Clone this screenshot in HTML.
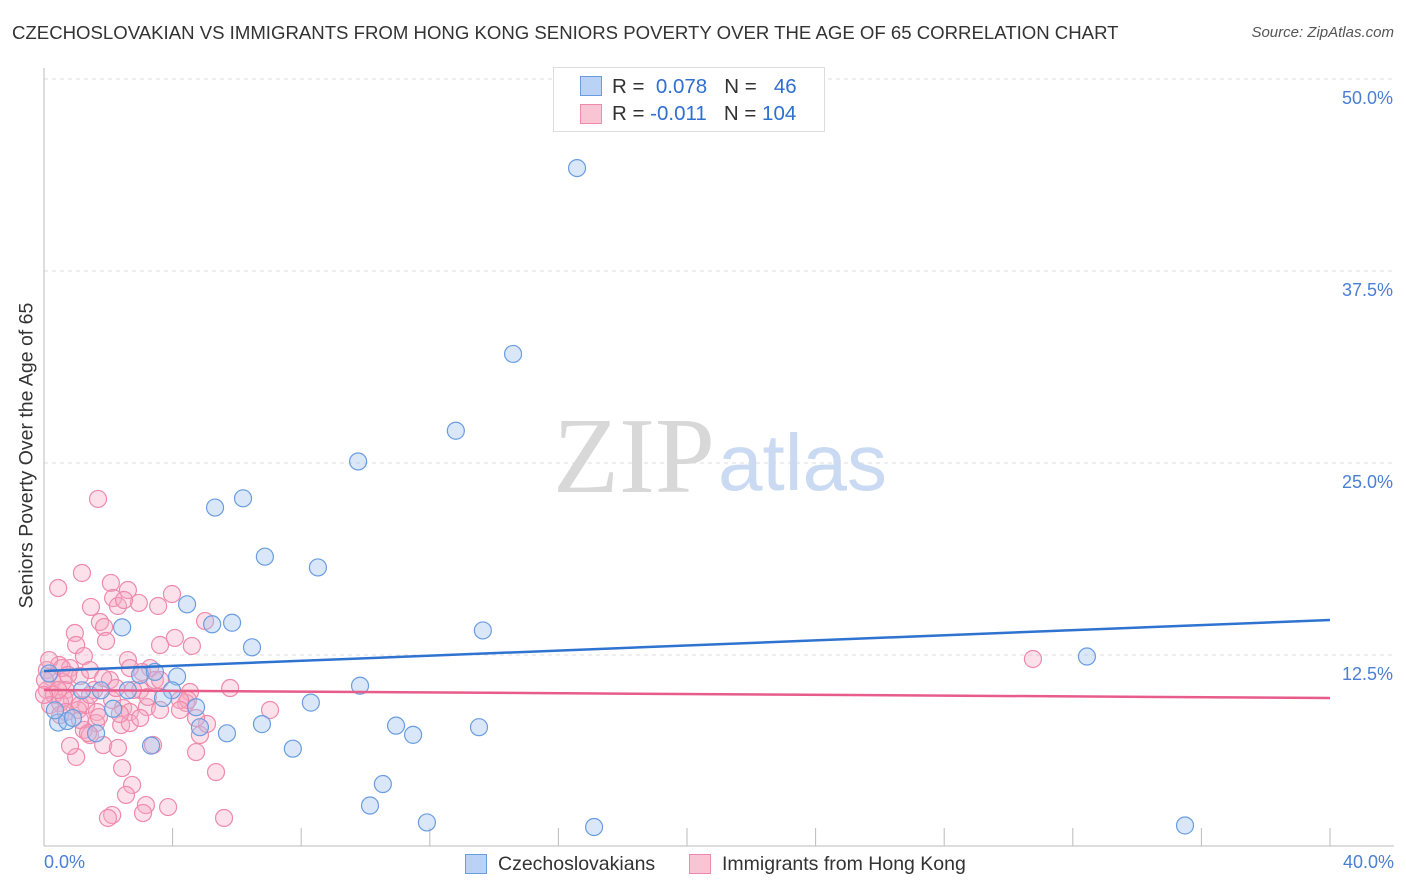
<!DOCTYPE html>
<html><head><meta charset="utf-8"><style>
body{margin:0;background:#fff;font-family:"Liberation Sans",sans-serif}
#wrap{position:relative;width:1406px;height:892px;overflow:hidden}
.t{position:absolute;white-space:nowrap}
</style></head><body>
<div id="wrap">
<div class="t" style="left:12px;top:22px;font-size:18.6px;color:#333">CZECHOSLOVAKIAN VS IMMIGRANTS FROM HONG KONG SENIORS POVERTY OVER THE AGE OF 65 CORRELATION CHART</div>
<div class="t" style="right:12px;top:24px;font-size:15px;color:#555;font-style:italic">Source: ZipAtlas.com</div>
<svg id="svg" width="1406" height="892" style="position:absolute;left:0;top:0"></svg>
</div>
<script>
const yTicks=[12.5,25,37.5,50];
const yTickLabels=["12.5%","25.0%","37.5%","50.0%"];
const blueX=[16.58,14.59,12.81,9.77,6.19,5.32,6.87,8.52,4.45,5.85,5.23,2.43,6.47,13.65,32.44,4.14,2.99,9.83,3.98,3.70,8.30,4.73,2.15,2.61,0.44,0.72,0.90,1.62,3.33,4.85,5.69,6.78,7.74,10.95,11.48,13.53,10.54,10.14,11.91,17.11,35.49,0.16,1.18,1.77,0.34,3.45];
const blueY=[44.2,32.1,27.1,25.1,22.7,22.1,18.9,18.2,15.8,14.6,14.5,14.3,13.0,14.1,12.4,11.1,11.2,10.5,10.2,9.7,9.4,9.1,9.0,10.2,8.1,8.2,8.4,7.4,6.6,7.8,7.4,8.0,6.4,7.9,7.3,7.8,4.1,2.7,1.6,1.3,1.4,11.3,10.2,10.2,8.9,11.4];
const pinkX=[1.68,0.44,1.18,2.08,2.61,1.46,2.15,2.95,3.55,3.98,2.30,2.49,0.96,1.74,1.87,1.93,1.00,1.24,3.61,4.07,4.60,5.01,3.30,2.61,0.47,0.81,0.09,0.25,0.59,1.12,1.43,2.05,2.99,3.45,4.54,0.09,0.31,0.68,0.87,1.31,1.65,2.12,2.46,2.67,3.20,3.61,4.42,0.19,0.50,0.62,1.06,1.62,2.40,2.67,1.24,1.43,1.84,1.00,1.37,0.81,2.30,3.39,4.85,5.07,5.79,7.03,4.48,3.23,2.77,2.24,1.84,1.56,1.12,0.44,0.03,0.00,0.16,0.56,0.75,1.43,3.61,4.23,4.73,5.35,2.43,2.74,2.55,3.17,3.86,3.08,2.12,1.99,5.60,30.76,0.50,1.71,2.36,3.05,1.12,2.99,4.73,4.23,2.67,0.68];
const pinkY=[22.66,16.86,17.84,17.19,16.73,15.63,16.21,15.89,15.69,16.47,15.69,16.08,13.93,14.65,14.32,13.41,13.15,12.43,13.15,13.61,13.09,14.71,11.65,12.17,11.85,11.65,11.52,11.00,10.74,11.13,11.52,10.87,10.22,10.87,10.09,10.22,9.90,10.22,9.57,9.24,8.79,9.57,9.05,8.79,9.11,8.92,9.38,9.24,9.38,9.70,8.92,8.07,7.94,8.07,7.62,7.29,6.64,5.86,7.42,6.58,6.45,6.64,7.29,8.01,10.35,8.92,9.57,9.77,10.22,10.35,11.00,10.22,9.24,10.22,10.87,9.90,12.17,11.65,11.20,9.90,10.87,9.57,6.18,4.88,5.14,4.04,3.39,2.73,2.60,2.21,2.08,1.89,1.89,12.24,8.59,8.46,8.66,11.39,8.27,8.40,8.40,8.92,11.65,8.79];
const blueTrend=[11.46,14.78];
const pinkTrend=[10.22,9.70];
const NS="http://www.w3.org/2000/svg";
const svg=document.getElementById('svg');
const X=v=>44+v*(1286/40);
const Y=v=>847-v*15.36;
function mk(tag,attrs,parent){const e=document.createElementNS(NS,tag);for(const k in attrs)e.setAttribute(k,attrs[k]);(parent||svg).appendChild(e);return e;}
yTicks.forEach((t,i)=>{
 const g=mk('line',{x1:44,x2:1394,y1:Y(t),y2:Y(t),stroke:'#ddd','stroke-dasharray':'4,4'});
 
 
 const tx=mk('text',{x:1393,y:Y(t)+25,'text-anchor':'end','font-size':18,fill:'#4a7fd4','font-family':'Liberation Sans'});
 tx.textContent=yTickLabels[i];
 
 
});
const ax=mk('line',{x1:44,x2:44,y1:68,y2:846,stroke:'#bbb'});


const bx=mk('line',{x1:44,x2:1394,y1:846,y2:846,stroke:'#bbb'});


for(let v=4;v<=40;v+=4){const tk=mk('line',{x1:X(v),x2:X(v),y1:828,y2:846,stroke:'#bbb'});
 
 }
const wm=mk('text',{x:553,y:492,'font-size':108,fill:'#d8d8d8','font-family':'Liberation Serif'});wm.textContent='ZIP';


const wm2=mk('text',{x:718,y:490,'font-size':80,fill:'#c9daf2','font-family':'Liberation Sans'});wm2.textContent='atlas';


pinkX.forEach((x,i)=>{const c=mk('circle',{cx:X(x),cy:Y(pinkY[i]),r:8.5,fill:'rgba(246,170,195,0.35)',stroke:'#ee8aab','stroke-width':1.2});
 
 });
blueX.forEach((x,i)=>{const c=mk('circle',{cx:X(x),cy:Y(blueY[i]),r:8.5,fill:'rgba(160,195,240,0.4)',stroke:'#6a9de0','stroke-width':1.2});
 
 });
const bl=mk('line',{x1:X(0),x2:X(40),y1:Y(blueTrend[0]),y2:Y(blueTrend[1]),stroke:'#2f73d1','stroke-width':2.5});


const pl=mk('line',{x1:X(0),x2:X(40),y1:Y(pinkTrend[0]),y2:Y(pinkTrend[1]),stroke:'#e85c8a','stroke-width':2.5});


</script>
<div class="t" style="left:-133px;top:444px;width:320px;text-align:center;transform:rotate(-90deg);font-size:19.5px;color:#333">Seniors Poverty Over the Age of 65</div>
<div class="t" style="left:44px;top:852px;font-size:18px;color:#4a7fd4">0.0%</div>
<div class="t" style="right:12px;top:852px;font-size:18px;color:#4a7fd4">40.0%</div>
<div style="position:absolute;left:553px;top:67px;width:270px;height:63px;border:1px solid #ddd;background:#fff;font-size:20.5px;color:#333">
 <div style="position:absolute;left:26px;top:8px;width:20px;height:18px;background:#b9d2f5;border:1px solid #6a9de0"></div>
 <div class="t" style="left:58px;top:7px">R = <span style="color:#2f6fd0">&nbsp;0.078</span>&nbsp;&nbsp;&nbsp;N = &nbsp;&nbsp;<span style="color:#2f6fd0">46</span></div>
 <div style="position:absolute;left:26px;top:36px;width:20px;height:18px;background:#f9c5d5;border:1px solid #ee8aab"></div>
 <div class="t" style="left:58px;top:34px">R = <span style="color:#2f6fd0">-0.011</span>&nbsp;&nbsp;&nbsp;N = <span style="color:#2f6fd0">104</span></div>
</div>
<div style="position:absolute;left:465px;top:853px;font-size:19.5px;color:#333">
 <div style="position:absolute;left:0;top:1px;width:20px;height:18px;background:#b9d2f5;border:1px solid #6a9de0"></div>
 <div class="t" style="left:33px;top:0">Czechoslovakians</div>
 <div style="position:absolute;left:224px;top:1px;width:20px;height:18px;background:#f9c5d5;border:1px solid #ee8aab"></div>
 <div class="t" style="left:257px;top:0">Immigrants from Hong Kong</div>
</div>
</body></html>
